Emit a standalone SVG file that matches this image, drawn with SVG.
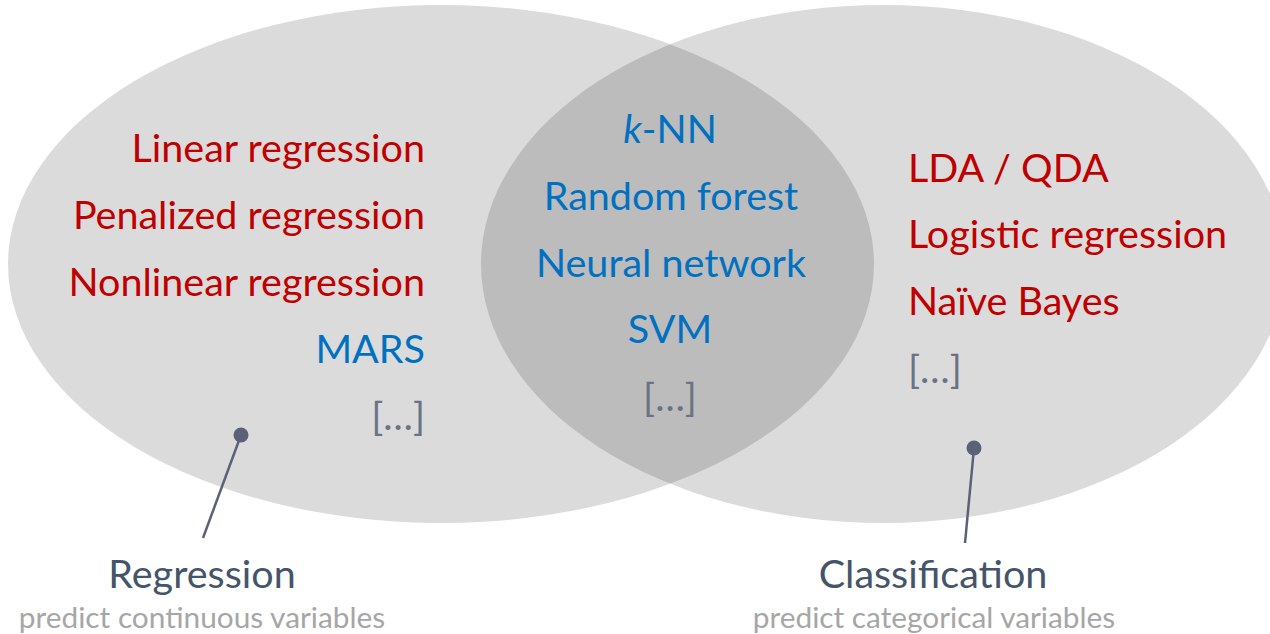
<svg xmlns="http://www.w3.org/2000/svg" width="1270" height="634" viewBox="0 0 1270 634">
  <style>
    .set { fill: #000; fill-opacity: 0.14; }
    .t { font-family: Lato, "Open Sans", "Liberation Sans", sans-serif; font-size: 39.5px; }
    .red { fill: #C00000; }
    .blue { fill: #0070C0; }
    .more { fill: #6A7386; }
    .title { font-family: Lato, "Open Sans", "Liberation Sans", sans-serif; font-size: 39.5px; fill: #44546A; text-anchor: middle; }
    .sub { font-family: Lato, "Open Sans", "Liberation Sans", sans-serif; font-size: 29.8px; fill: #A6A6A6; text-anchor: middle; }
    .lead { stroke: #5A6178; stroke-width: 2.5; fill: none; }
    .dot { fill: #5A6178; }
  </style>

  <!-- overlapping sets -->
  <g id="sets">
    <ellipse id="regression-set" class="set" cx="441" cy="264" rx="433" ry="259"/>
    <ellipse id="classification-set" class="set" cx="883" cy="264" rx="402" ry="259"/>
  </g>

  <!-- regression-only methods -->
  <g id="regression-methods" class="t" text-anchor="end">
    <text class="red" x="425" y="162">Linear regression</text>
    <text class="red" x="425" y="229">Penalized regression</text>
    <text class="red" x="425" y="296">Nonlinear regression</text>
    <text class="blue" x="425" y="363">MARS</text>
    <text class="more" x="425" y="430">[…]</text>
  </g>

  <!-- methods used for both -->
  <g id="shared-methods" class="t blue" text-anchor="middle">
    <text x="670" y="143"><tspan font-style="italic">k</tspan>-NN</text>
    <text x="671" y="210">Random forest</text>
    <text x="671" y="277">Neural network</text>
    <text x="670" y="343">SVM</text>
    <text class="more" x="670" y="411">[…]</text>
  </g>

  <!-- classification-only methods -->
  <g id="classification-methods" class="t red" text-anchor="start">
    <text x="908" y="182">LDA / QDA</text>
    <text x="908" y="248">Logistic regression</text>
    <text x="908" y="315">Naïve Bayes</text>
    <text class="more" x="908" y="383">[…]</text>
  </g>

  <!-- leader lines -->
  <g id="connectors">
    <line class="lead" x1="241" y1="435" x2="203" y2="538"/>
    <circle class="dot" cx="241" cy="435" r="7.5"/>
    <line class="lead" x1="974" y1="448" x2="965" y2="543"/>
    <circle class="dot" cx="974" cy="448" r="7.5"/>
  </g>

  <g id="regression-label">
    <text class="title" x="202" y="588">Regression</text>
    <text class="sub" x="202" y="628">predict continuous variables</text>
  </g>

  <g id="classification-label">
    <text class="title" x="933" y="588">Classification</text>
    <text class="sub" x="934" y="628">predict categorical variables</text>
  </g>
</svg>
